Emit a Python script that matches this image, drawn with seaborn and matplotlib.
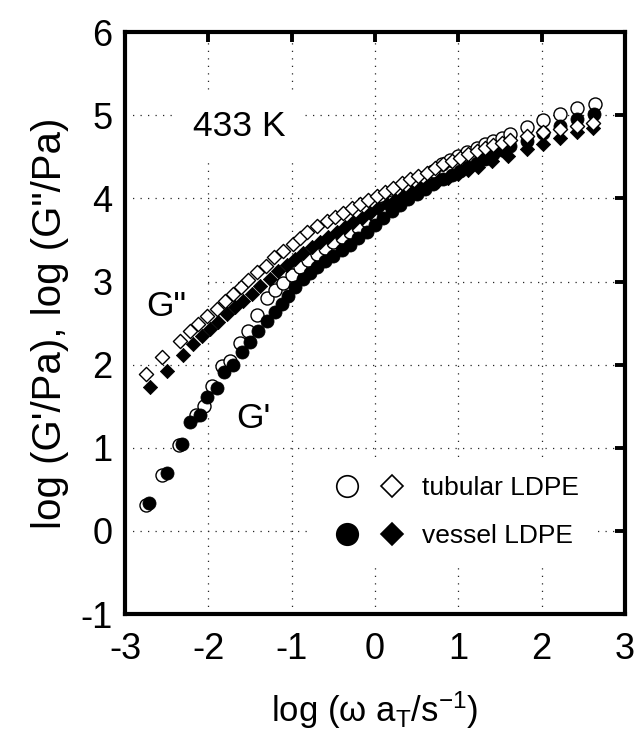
import matplotlib
matplotlib.use("Agg")
import matplotlib.pyplot as plt
import seaborn as sns
import pandas as pd
from matplotlib.lines import Line2D
from matplotlib.legend_handler import HandlerTuple

# ---- data ----
tub_Gp_x = [-2.75, -2.55, -2.35, -2.15, -2.05, -1.96, -1.84, -1.74, -1.62, -1.52, -1.42, -1.30,
            -1.20, -1.10, -1.00, -0.90, -0.80, -0.70, -0.60, -0.50, -0.40, -0.30, -0.20, -0.10,
            0.00, 0.10, 0.20, 0.30, 0.40, 0.50, 0.60, 0.70, 0.80, 0.90, 1.00, 1.10, 1.22, 1.32,
            1.42, 1.52, 1.62, 1.82, 2.01, 2.22, 2.42, 2.64]
tub_Gp_y = [0.31, 0.67, 1.03, 1.39, 1.50, 1.74, 1.98, 2.05, 2.26, 2.40, 2.60, 2.80,
            2.90, 2.98, 3.08, 3.18, 3.26, 3.33, 3.40, 3.47, 3.53, 3.59, 3.66, 3.73,
            3.80, 3.88, 3.96, 4.04, 4.11, 4.19, 4.26, 4.33, 4.41, 4.46, 4.51, 4.56, 4.61, 4.65,
            4.69, 4.73, 4.77, 4.86, 4.94, 5.01, 5.09, 5.14]

ves_Gp_x = [-2.71, -2.50, -2.31, -2.22, -2.10, -2.02, -1.90, -1.81, -1.70, -1.60, -1.50, -1.40,
            -1.30, -1.20, -1.12, -1.04, -0.96, -0.86, -0.78, -0.70, -0.60, -0.50, -0.40, -0.30,
            -0.20, -0.10, 0.00, 0.10, 0.20, 0.30, 0.40, 0.50, 0.60, 0.70, 0.82, 0.92, 1.02, 1.12,
            1.22, 1.32, 1.42, 1.52, 1.62, 1.82, 2.01, 2.22, 2.42, 2.63]
ves_Gp_y = [0.34, 0.70, 1.05, 1.31, 1.39, 1.61, 1.72, 1.91, 2.00, 2.15, 2.27, 2.41,
            2.53, 2.63, 2.73, 2.83, 2.93, 3.03, 3.10, 3.18, 3.25, 3.31, 3.38, 3.44,
            3.52, 3.60, 3.68, 3.76, 3.85, 3.92, 3.99, 4.05, 4.11, 4.17, 4.23, 4.28, 4.33, 4.38,
            4.43, 4.48, 4.53, 4.58, 4.63, 4.69, 4.79, 4.87, 4.96, 5.01]

tub_Gpp_x = [-2.75, -2.55, -2.34, -2.22, -2.12, -2.01, -1.90, -1.80, -1.70, -1.61, -1.52, -1.42,
             -1.31, -1.21, -1.10, -0.98, -0.90, -0.82, -0.70, -0.58, -0.48, -0.38, -0.28, -0.18,
             -0.08, 0.02, 0.12, 0.22, 0.32, 0.42, 0.52, 0.62, 0.72, 0.82, 0.92, 1.02, 1.12, 1.22,
             1.32, 1.42, 1.52, 1.62, 1.82, 2.02, 2.22, 2.42, 2.62]
tub_Gpp_y = [1.89, 2.09, 2.29, 2.41, 2.49, 2.58, 2.67, 2.77, 2.85, 2.93, 3.02, 3.11,
             3.19, 3.29, 3.37, 3.45, 3.52, 3.60, 3.67, 3.73, 3.78, 3.83, 3.88, 3.93,
             3.98, 4.03, 4.08, 4.13, 4.18, 4.23, 4.27, 4.31, 4.36, 4.41, 4.45, 4.49, 4.53, 4.57,
             4.61, 4.64, 4.67, 4.70, 4.75, 4.80, 4.83, 4.87, 4.91]

ves_Gpp_x = [-2.70, -2.50, -2.30, -2.18, -2.08, -1.98, -1.88, -1.78, -1.68, -1.58, -1.48, -1.38,
             -1.26, -1.16, -1.06, -0.96, -0.86, -0.76, -0.66, -0.56, -0.46, -0.36, -0.26, -0.16,
             -0.06, 0.04, 0.14, 0.24, 0.34, 0.44, 0.54, 0.64, 0.76, 0.88, 1.00, 1.12, 1.24, 1.40,
             1.60, 1.82, 2.02, 2.22, 2.42, 2.62]
ves_Gpp_y = [1.73, 1.92, 2.12, 2.25, 2.34, 2.43, 2.51, 2.61, 2.69, 2.77, 2.85, 2.95,
             3.03, 3.13, 3.20, 3.27, 3.34, 3.41, 3.48, 3.54, 3.60, 3.66, 3.72, 3.77,
             3.83, 3.88, 3.93, 3.98, 4.03, 4.08, 4.12, 4.16, 4.21, 4.25, 4.29, 4.34, 4.38, 4.45,
             4.51, 4.59, 4.66, 4.73, 4.80, 4.85]

x_ticks = [-3, -2, -1, 0, 1, 2, 3]
y_ticks = [-1, 0, 1, 2, 3, 4, 5, 6]
legend_labels = ["tubular LDPE", "vessel LDPE"]

# ---- style ----
sns.set_theme(style="white")
plt.rcParams["font.family"] = ["Liberation Sans", "DejaVu Sans"]
plt.rcParams["mathtext.fontset"] = "custom"
plt.rcParams["mathtext.rm"] = "Liberation Sans"
plt.rcParams["mathtext.it"] = "Liberation Sans:italic"
plt.rcParams["mathtext.default"] = "regular"
plt.rcParams["axes.unicode_minus"] = False
for k in ["text.color", "axes.labelcolor", "xtick.color", "ytick.color", "axes.edgecolor"]:
    plt.rcParams[k] = "black"

fig = plt.figure(figsize=(6.39, 7.31), dpi=100)
ax = fig.add_axes([0.1956, 0.160, 0.7825, 0.796])

df_tGp = pd.DataFrame({"x": tub_Gp_x, "y": tub_Gp_y})
df_vGp = pd.DataFrame({"x": ves_Gp_x, "y": ves_Gp_y})
df_tGpp = pd.DataFrame({"x": tub_Gpp_x, "y": tub_Gpp_y})
df_vGpp = pd.DataFrame({"x": ves_Gpp_x, "y": ves_Gpp_y})

circ_s = 88
dia_s = 52
sns.scatterplot(data=df_tGp, x="x", y="y", marker="o", s=circ_s, color="white",
                edgecolor="black", linewidth=1.0, ax=ax, zorder=3)
sns.scatterplot(data=df_vGp, x="x", y="y", marker="o", s=circ_s, color="black",
                edgecolor="black", linewidth=0.6, ax=ax, zorder=3)
sns.scatterplot(data=df_vGpp, x="x", y="y", marker="D", s=dia_s, color="black",
                edgecolor="black", linewidth=0.6, ax=ax, zorder=3)
sns.scatterplot(data=df_tGpp, x="x", y="y", marker="D", s=dia_s, color="white",
                edgecolor="black", linewidth=1.0, ax=ax, zorder=3)

ax.set_xlim(-3, 3)
ax.set_ylim(-1, 6)
ax.set_xticks(x_ticks)
ax.set_yticks(y_ticks)
ax.set_xticklabels([str(v) for v in x_ticks])
ax.set_yticklabels([str(v) for v in y_ticks])

ax.grid(True, color="0.15", linestyle=(0, (1, 5)), linewidth=0.9)
ax.set_axisbelow(True)

for sp in ax.spines.values():
    sp.set_visible(True)
    sp.set_linewidth(3.0)
    sp.set_color("black")

ax.tick_params(axis="both", direction="in", length=7, width=2.8, top=True, right=True,
               labelsize=26, colors="black")
ax.tick_params(axis="x", pad=13)
ax.tick_params(axis="y", pad=9)

ax.set_xlabel("log (ω a$_{T}$/s$^{-1}$)", fontsize=25, labelpad=16)
ax.set_ylabel("log (G'/Pa), log (G\"/Pa)", fontsize=29, labelpad=8)

box = dict(boxstyle="square,pad=0.45", facecolor="white", edgecolor="none")
ax.text(-1.63, 4.86, "433 K", fontsize=25.5, ha="center", va="center", bbox=box, zorder=2.5)
ax.text(-2.51, 2.70, "G\"", fontsize=25.5, ha="center", va="center", bbox=box, zorder=2.5)
ax.text(-1.46, 1.35, "G'", fontsize=25.5, ha="center", va="center",
        bbox=dict(boxstyle="square,pad=0.2", facecolor="white", edgecolor="none"), zorder=2.5)

# legend
h_to = Line2D([], [], marker="o", ls="none", ms=15.5, mfc="white", mec="black", mew=1.2)
h_do = Line2D([], [], marker="D", ls="none", ms=11, mfc="white", mec="black", mew=1.2)
h_tf = Line2D([], [], marker="o", ls="none", ms=15.5, mfc="black", mec="black", mew=1.2)
h_df = Line2D([], [], marker="D", ls="none", ms=11, mfc="black", mec="black", mew=1.2)
leg = ax.legend([(h_to, h_do), (h_tf, h_df)], legend_labels,
                handler_map={tuple: HandlerTuple(ndivide=None, pad=0.0)},
                loc="upper left", bbox_to_anchor=(0.37, 0.262), borderaxespad=0,
                fontsize=19, frameon=True, fancybox=False, framealpha=1,
                facecolor="white", edgecolor="none", handlelength=3.4,
                handletextpad=0.3, labelspacing=0.9, borderpad=0.55)
leg.set_zorder(5)

fig.savefig("out.png", dpi=100)
